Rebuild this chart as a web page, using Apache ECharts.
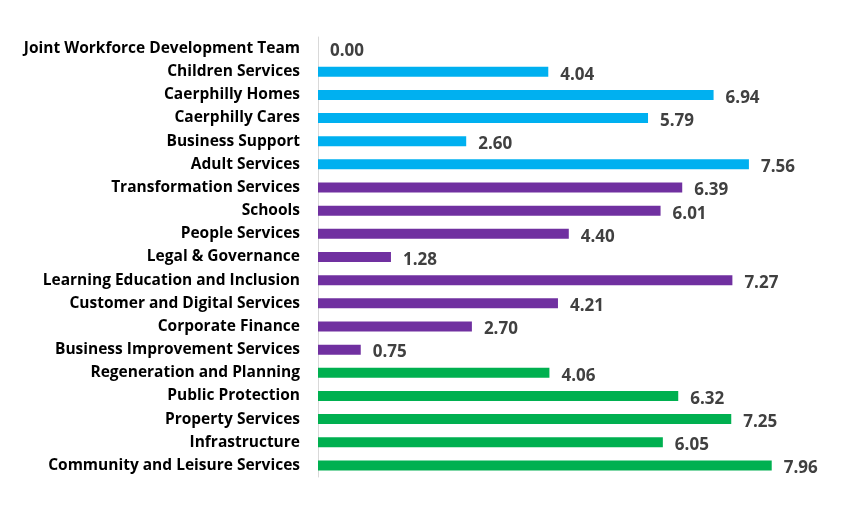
<!DOCTYPE html>
<html>
<head>
<meta charset="utf-8" />
<title>Bar chart</title>
<script src="https://cdn.jsdelivr.net/npm/echarts@6/dist/echarts.min.js"></script>
<style>
	html, body { margin: 0; padding: 0; background: #fff; }
	#main { width: 845px; height: 507px; }
</style>
</head>
<body>
<div id="main"></div>
<script type="text/javascript">
	// top to bottom
	var categories = [
		'Joint Workforce Development Team', 'Children Services', 'Caerphilly Homes', 'Caerphilly Cares',
		'Business Support', 'Adult Services', 'Transformation Services', 'Schools', 'People Services',
		'Legal & Governance', 'Learning Education and Inclusion', 'Customer and Digital Services',
		'Corporate Finance', 'Business Improvement Services', 'Regeneration and Planning',
		'Public Protection', 'Property Services', 'Infrastructure', 'Community and Leisure Services'
	];
	var values = [0.00, 4.04, 6.94, 5.79, 2.60, 7.56, 6.39, 6.01, 4.40, 1.28, 7.27, 4.21, 2.70, 0.75, 4.06, 6.32, 7.25, 6.05, 7.96];
	// 0 = blue group, 1 = purple group, 2 = green group
	var groups = [0, 0, 0, 0, 0, 0, 1, 1, 1, 1, 1, 1, 1, 1, 2, 2, 2, 2, 2];
	var groupColors = ['#00B0F0', '#7030A0', '#00B050'];

	var bar_data = values.map(function (v, i) {
		return { value: v, itemStyle: { color: groupColors[groups[i]] } };
	});

	var chart = echarts.init(document.getElementById('main'), null, { renderer: 'canvas' });
	var option = {
		animation: false,
		grid: { left: 318, right: 14, top: 37, bottom: 30, containLabel: false },
		xAxis: {
			type: 'value',
			min: 0,
			max: 9,
			show: false
		},
		yAxis: {
			type: 'category',
			inverse: true,
			data: categories,
			axisLine: { show: true, lineStyle: { color: '#d9d9d9', width: 1 } },
			axisTick: { show: false },
			axisLabel: {
				color: '#000',
				fontFamily: 'Open Sans',
				fontWeight: 'bold',
				fontSize: 15.5,
				margin: 18
			}
		},
		series: [
			{
				type: 'bar',
				data: bar_data,
				barWidth: 10,
				label: {
					show: true,
					position: 'right',
					distance: 12,
					color: '#404040',
					fontFamily: 'Open Sans',
					fontWeight: 'bold',
					fontSize: 17,
					offset: [0, 3],
					formatter: function (p) { return p.value.toFixed(2); }
				}
			}
		]
	};
	chart.setOption(option);
</script>
</body>
</html>
